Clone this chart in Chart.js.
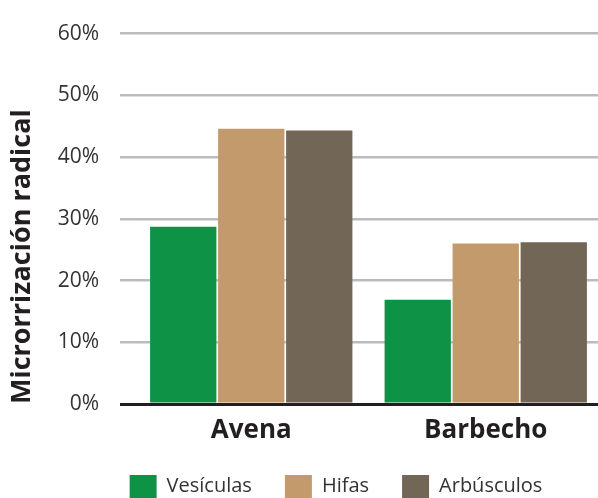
<!DOCTYPE html>
<html>
<head>
<meta charset="utf-8">
<script src="https://cdn.jsdelivr.net/npm/chart.js@4"></script>
<style>
html,body{margin:0;padding:0;background:#fff;overflow:hidden;}
#wrap{width:598px;height:498px;overflow:hidden;}
</style>
</head>
<body>
<div id="wrap"><canvas id="c" width="603" height="508"></canvas></div>
<script>
const categories = ['Avena', 'Barbecho'];
const seriesNames = ['Vesículas', 'Hifas', 'Arbúsculos'];
const vesiculas = [28.7, 16.9];
const hifas = [44.6, 26.0];
const arbusculos = [44.3, 26.2];
const yTicks = [0, 10, 20, 30, 40, 50, 60];
const colors = ['#0e9346', '#c39a6b', '#726657'];

const FONT = "'Open Sans', sans-serif";

const legendShift = {
  id: 'legendShift',
  afterLayout(chart) {
    if (chart.legend) { chart.legend.left += 69; }
  }
};

new Chart(document.getElementById('c'), {
  type: 'bar',
  data: {
    labels: categories,
    datasets: [vesiculas, hifas, arbusculos].map((d, i) => ({
      label: seriesNames[i],
      data: d,
      backgroundColor: colors[i],
      borderWidth: 0,
      barPercentage: 0.975,
      categoryPercentage: 0.87
    }))
  },
  plugins: [legendShift],
  options: {
    responsive: false,
    animation: false,
    devicePixelRatio: 1,
    layout: { padding: { top: 26, right: 0, left: 0, bottom: 0 } },
    plugins: {
      tooltip: { enabled: false },
      legend: {
        position: 'bottom',
        labels: {
          boxWidth: 27,
          boxHeight: 23,
          padding: 33,
          color: '#333',
          font: { family: FONT, size: 20 }
        }
      }
    },
    scales: {
      x: {
        grid: { display: false, drawTicks: false },
        border: { display: false },
        afterFit: (s) => { s.height = 38; },
        ticks: {
          color: '#231f20',
          padding: 11,
          font: { family: FONT, size: 26, weight: 'bold' }
        }
      },
      y: {
        min: 0,
        max: 60,
        afterBuildTicks: (s) => { s.ticks = yTicks.map(v => ({ value: v })); },
        afterFit: (s) => { s.width = 134; },
        grid: {
          color: (ctx) => ctx.tick && ctx.tick.value === 0 ? '#231f20' : '#bcbcc0',
          lineWidth: (ctx) => ctx.tick && ctx.tick.value === 0 ? 3 : 2.5,
          tickLength: 14,
          drawTicks: true
        },
        border: { display: false },
        ticks: {
          padding: 21,
          color: '#333',
          font: { family: FONT, size: 21 },
          callback: (v) => v + '%'
        },
        title: {
          display: true,
          text: 'Microrrización radical',
          align: 'start',
          color: '#231f20',
          padding: { top: 6, bottom: 0 },
          font: { family: FONT, size: 27, weight: 'bold' }
        }
      }
    }
  }
});
</script>
</body>
</html>
